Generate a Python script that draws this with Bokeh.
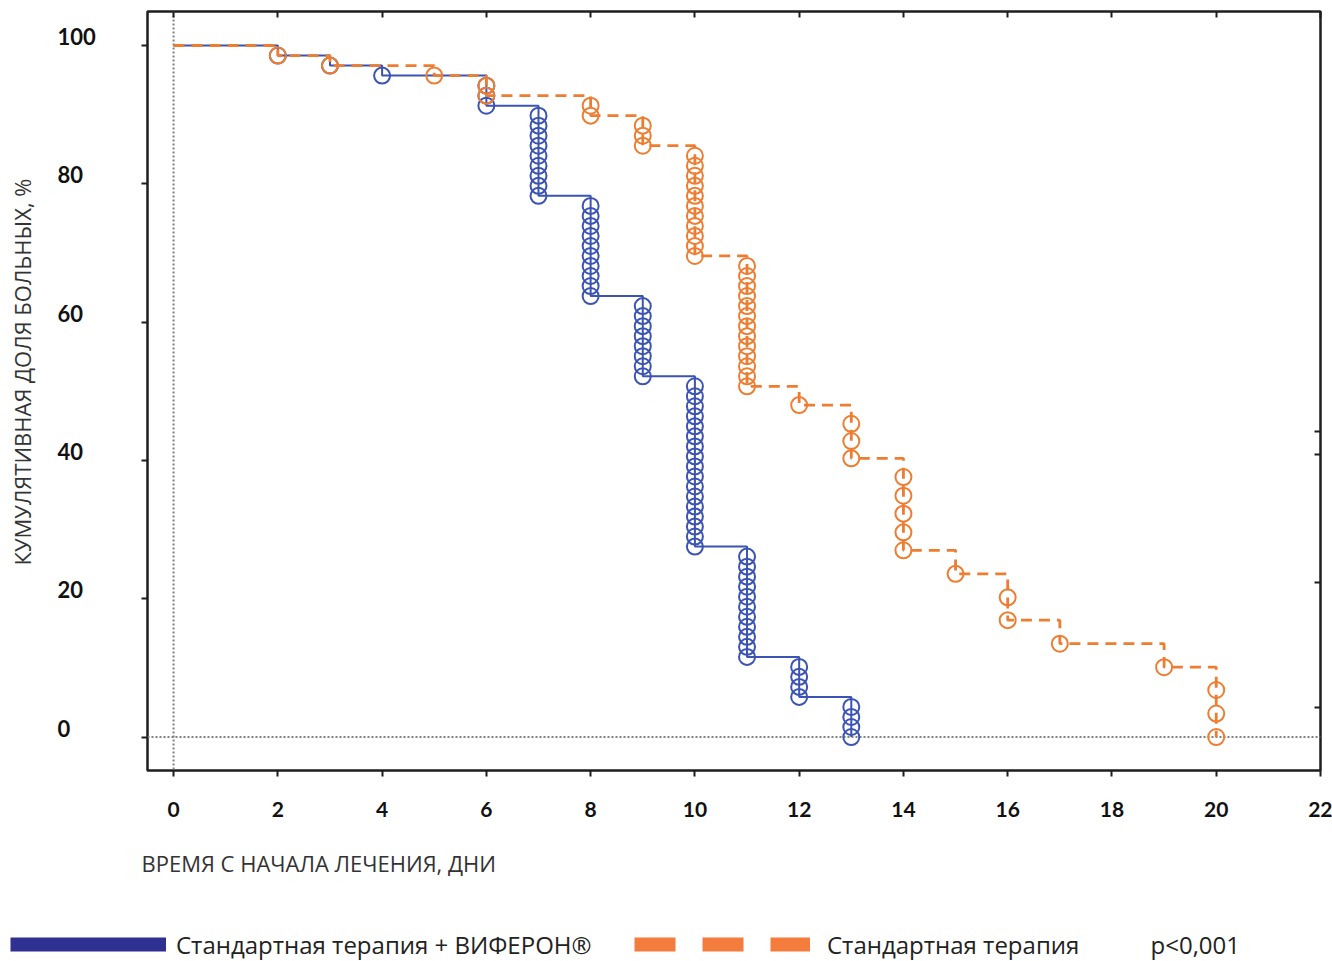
from bokeh.plotting import figure
from bokeh.layouts import column, row
from bokeh.models import (Range1d, LinearAxis, FixedTicker, Span, Label,
                          Legend, LegendItem, CustomJSTickFormatter)
from bokeh.core.properties import value
from bokeh.embed import file_html
from bokeh.resources import INLINE

# ---------------- data ----------------
x_ticks = [0, 2, 4, 6, 8, 10, 12, 14, 16, 18, 20, 22]
y_ticks = [0, 20, 40, 60, 80, 100]
y_tick_labels = ["0", "20", "40", "60", "80", "100"]
right_ticks = [4.3, 22.3, 40.9, 44.2]

# Kaplan-Meier steps: day, cumulative share (%) after that day's events
vif_days = [0, 2, 3, 4, 6, 7, 8, 9, 10, 11, 12, 13]
vif_surv = [100, 98.55, 97.10, 95.65, 91.30, 78.26, 63.77, 52.17, 27.54, 11.59, 5.80, 0.0]
std_days = [0, 2, 3, 5, 6, 8, 9, 10, 11, 12, 13, 14, 15, 16, 17, 19, 20]
std_surv = [100, 98.55, 97.10, 95.65, 92.75, 89.86, 85.51, 69.57, 50.72, 48.0,
            40.3, 27.0, 23.6, 16.9, 13.5, 10.1, 0.0]

# event markers (circles)
vif_evt_day = ([2, 3, 4, 6, 6, 6] + [7] * 9 + [8] * 10 + [9] * 8 + [10] * 17
               + [11] * 11 + [12] * 4 + [13] * 4)
vif_evt_surv = [98.55, 97.10, 95.65, 94.20, 92.75, 91.30,
                89.86, 88.41, 86.96, 85.51, 84.06, 82.61, 81.16, 79.71, 78.26,
                76.81, 75.36, 73.91, 72.46, 71.01, 69.57, 68.12, 66.67, 65.22, 63.77,
                62.32, 60.87, 59.42, 57.97, 56.52, 55.07, 53.62, 52.17,
                50.72, 49.28, 47.83, 46.38, 44.93, 43.48, 42.03, 40.58, 39.13, 37.68,
                36.23, 34.78, 33.33, 31.88, 30.43, 28.99, 27.54,
                26.09, 24.64, 23.19, 21.74, 20.29, 18.84, 17.39, 15.94, 14.49, 13.04, 11.59,
                10.14, 8.70, 7.25, 5.80,
                4.35, 2.90, 1.45, 0.00]
std_evt_day = ([2, 3, 5, 6, 6, 8, 8, 9, 9, 9] + [10] * 11 + [11] * 13 + [12]
               + [13] * 3 + [14] * 5 + [15] + [16] * 2 + [17] + [19] + [20] * 3)
std_evt_surv = [98.55, 97.10, 95.65, 94.20, 92.75, 91.30, 89.86, 88.41, 86.96, 85.51,
                84.06, 82.61, 81.16, 79.71, 78.26, 76.81, 75.36, 73.91, 72.46, 71.01, 69.57,
                68.12, 66.67, 65.22, 63.77, 62.32, 60.87, 59.42, 57.97, 56.52, 55.07,
                53.62, 52.17, 50.72,
                48.0,
                45.3, 42.8, 40.3,
                37.6, 34.9, 32.3, 29.6, 27.0,
                23.6,
                20.2, 16.9,
                13.5,
                10.1,
                6.8, 3.4, 0.0]

label_vif = "Стандартная терапия + ВИФЕРОН®"
label_std = "Стандартная терапия"
p_text = "p<0,001"
x_title = "ВРЕМЯ С НАЧАЛА ЛЕЧЕНИЯ, ДНИ"
y_title = "КУМУЛЯТИВНАЯ ДОЛЯ БОЛЬНЫХ, %"

# ---------------- styles ----------------
BLUE = "#3b54b3"
ORANGE = "#ee7d31"
LEG_BLUE = "#2e3192"
LEG_ORANGE = "#f47c3c"
INK = "#1e1e1e"
TITLE_FONT = "Open Sans"
NUM_FONT = "Lato"
NAN = float("nan")

# ---------------- main plot ----------------
p = figure(frame_width=1173, frame_height=759,
           x_range=Range1d(-0.5, 22.0), y_range=Range1d(-4.84, 104.92),
           output_backend="svg", toolbar_location=None,
           min_border_left=6, min_border_right=12, min_border_top=11, min_border_bottom=60)
p.xgrid.visible = False
p.ygrid.visible = False
p.outline_line_color = INK
p.outline_line_width = 2.5
p.background_fill_color = "white"
p.border_fill_color = "white"

blank = CustomJSTickFormatter(code="return ''")

xa = p.xaxis[0]
xa.ticker = FixedTicker(ticks=x_ticks)
xa.axis_line_color = None
xa.major_tick_in = 0
xa.major_tick_out = 6
xa.minor_tick_in = 0
xa.minor_tick_out = 0
xa.major_tick_line_width = 2
xa.major_tick_line_color = INK
xa.major_label_text_font = NUM_FONT
xa.major_label_text_font_style = "bold"
xa.major_label_text_font_size = "21px"
xa.major_label_text_color = "#111111"
xa.major_label_standoff = 25

ya = p.yaxis[0]
ya.ticker = FixedTicker(ticks=y_ticks)
ya.axis_line_color = None
ya.major_tick_in = 0
ya.major_tick_out = 6
ya.minor_tick_in = 0
ya.minor_tick_out = 0
ya.major_tick_line_width = 2
ya.major_tick_line_color = INK
ya.formatter = blank
ya.major_label_text_font_size = "0px"
ya.major_label_standoff = 0

top = LinearAxis(ticker=FixedTicker(ticks=x_ticks), formatter=blank,
                 major_label_text_font_size="0px", major_label_standoff=0,
                 axis_line_color=None, major_tick_in=6, major_tick_out=0,
                 minor_tick_in=0, minor_tick_out=0,
                 major_tick_line_width=2, major_tick_line_color=INK)
p.add_layout(top, "above")
right = LinearAxis(ticker=FixedTicker(ticks=right_ticks), formatter=blank,
                   major_label_text_font_size="0px", major_label_standoff=0,
                   axis_line_color=None, major_tick_in=6, major_tick_out=0,
                   minor_tick_in=0, minor_tick_out=0,
                   major_tick_line_width=2, major_tick_line_color=INK)
p.add_layout(right, "right")

# dotted reference lines
p.add_layout(Span(location=0, dimension="height", line_color="#808080",
                  line_width=2, line_dash="2 2", level="underlay"))
p.add_layout(Span(location=0, dimension="width", line_color="#808080",
                  line_width=2, line_dash="2 2", level="underlay"))

# curves
p.step(vif_days, vif_surv, mode="after", line_color=BLUE, line_width=2)
p.scatter(vif_evt_day, vif_evt_surv, marker="circle", size=16, fill_color=None,
          line_color=BLUE, line_width=2)
p.step(std_days, std_surv, mode="after", line_color=ORANGE, line_width=2.8,
       line_dash="11 7")
p.scatter(std_evt_day, std_evt_surv, marker="circle", size=16, fill_color=None,
          line_color=ORANGE, line_width=2)

# ---------------- left strip: y tick labels + y title (shares the y scale) ----------------
left = figure(frame_width=141, frame_height=759,
              x_range=Range1d(0, 141), y_range=p.y_range,
              x_axis_type=None, y_axis_type=None,
              output_backend="svg", toolbar_location=None,
              min_border=0, min_border_top=11, min_border_bottom=60)
left.outline_line_color = None
left.background_fill_color = "white"
left.border_fill_color = "white"
left.text(x=57, y=y_ticks, text=y_tick_labels, text_font=value(NUM_FONT),
          text_font_style="bold", text_font_size="22px", text_color="#111111",
          text_align="left", text_baseline="middle", y_offset=-9)
left.add_layout(Label(x=21, y=205, x_units="screen", y_units="screen", angle=90,
                      angle_units="deg", text=y_title, text_font=TITLE_FONT,
                      text_font_size="22px", text_color="#333333",
                      text_align="left", text_baseline="middle"))

# ---------------- bottom strip: x title + legend ----------------
leg = figure(frame_width=1332, frame_height=131,
             x_range=Range1d(0, 1332), y_range=Range1d(0, 131),
             x_axis_type=None, y_axis_type=None,
             output_backend="svg", toolbar_location=None, min_border=0)
leg.outline_line_color = None
leg.background_fill_color = "white"
leg.border_fill_color = "white"
leg.add_layout(Label(x=141, y=99, x_units="screen", y_units="screen",
                     text=x_title, text_font=TITLE_FONT, text_font_size="22px",
                     text_color="#333333", text_align="left", text_baseline="middle"))

r_vif = leg.line([NAN], [NAN], line_color=LEG_BLUE, line_width=14)
r_std = leg.line([NAN], [NAN], line_color=LEG_ORANGE, line_width=14, line_dash="41 27")
common = dict(orientation="horizontal", glyph_height=40, label_height=40,
              padding=0, margin=0, spacing=0, border_line_color=None,
              background_fill_alpha=0, label_text_font=TITLE_FONT,
              label_text_font_size="24px", label_text_color="#222222")
leg.add_layout(Legend(items=[LegendItem(label=label_vif, renderers=[r_vif])],
                      location=(10, -3), glyph_width=156, label_standoff=10, **common))
leg.add_layout(Legend(items=[LegendItem(label=label_std, renderers=[r_std])],
                      location=(634, -3), glyph_width=176, label_standoff=17, **common))
leg.add_layout(Label(x=1150, y=17, x_units="screen", y_units="screen", text=p_text,
                     text_font=TITLE_FONT, text_font_size="24px", text_color="#222222",
                     text_align="left", text_baseline="middle"))

layout = column(row(left, p, spacing=0), leg, spacing=0)
open("out.html", "w").write(file_html(layout, INLINE))
